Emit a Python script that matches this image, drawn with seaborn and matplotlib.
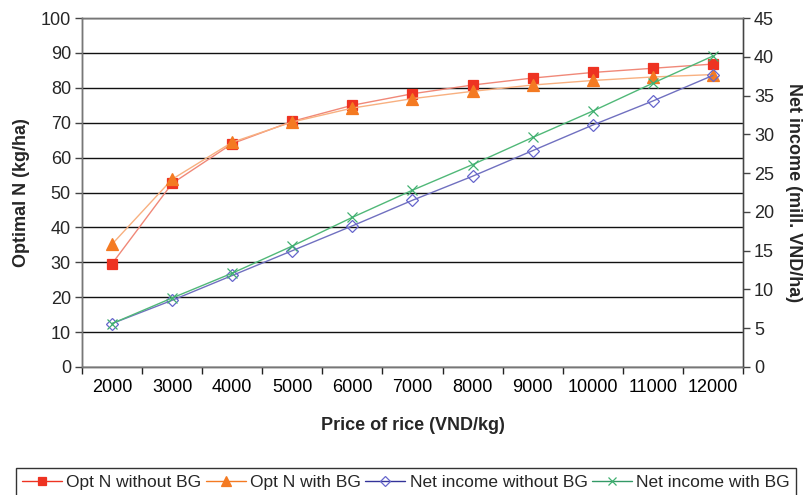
import matplotlib
matplotlib.use("Agg")
import matplotlib.pyplot as plt
from matplotlib.ticker import FixedLocator, NullFormatter
import seaborn as sns
import pandas as pd
import numpy as np

# Price of rice (VND/kg)
prices = [2000, 3000, 4000, 5000, 6000, 7000, 8000, 9000, 10000, 11000, 12000]
# Optimal N rate (kg/ha)
opt_n_without_bg = [29.6, 52.6, 64.0, 70.4, 75.0, 78.3, 80.8, 82.8, 84.4, 85.6, 86.8]
opt_n_with_bg = [35.2, 53.8, 64.4, 70.2, 74.2, 76.9, 79.0, 80.8, 82.1, 83.1, 83.8]
# Net income (mill. VND/ha)
income_without_bg = [5.6, 8.6, 11.8, 15.0, 18.2, 21.5, 24.6, 27.9, 31.2, 34.3, 37.6]
income_with_bg = [5.6, 8.9, 12.1, 15.6, 19.3, 22.8, 26.1, 29.6, 33.0, 36.6, 40.1]

labels = ["Opt N without BG", "Opt N with BG",
          "Net income without BG", "Net income with BG"]

pos = np.arange(len(prices))
df_n = pd.DataFrame({"pos": np.tile(pos, 2),
                     "value": opt_n_without_bg + opt_n_with_bg,
                     "series": [labels[0]] * len(pos) + [labels[1]] * len(pos)})
df_i = pd.DataFrame({"pos": np.tile(pos, 2),
                     "value": income_without_bg + income_with_bg,
                     "series": [labels[2]] * len(pos) + [labels[3]] * len(pos)})

sns.set_theme(style="white")
plt.rcParams["font.family"] = ["Liberation Sans", "DejaVu Sans"]

fig = plt.figure(figsize=(8.12, 4.95), dpi=100)
ax = fig.add_axes([0.101, 0.2586, 0.814, 0.705])
ax2 = ax.twinx()

line_styles = {
    labels[0]: dict(color="#F08878", mcolor="#EE3322", marker="s", ms=7, mfc="#EE3322"),
    labels[1]: dict(color="#F8B080", mcolor="#F47A22", marker="^", ms=8, mfc="#F47A22"),
    labels[2]: dict(color="#7070C0", mcolor="#6666CC", marker="D", ms=6, mfc="none"),
    labels[3]: dict(color="#50B878", mcolor="#40B070", marker="x", ms=7, mfc="#40B070"),
}

for a, df, names in [(ax, df_n, labels[:2]), (ax2, df_i, labels[2:])]:
    for name in names:
        st = line_styles[name]
        sub = df[df["series"] == name]
        sns.lineplot(data=sub, x="pos", y="value", ax=a, color=st["color"],
                     linewidth=1.0, marker=st["marker"], markersize=st["ms"],
                     markerfacecolor=st["mfc"], markeredgecolor=st["mcolor"],
                     markeredgewidth=0.9, legend=False)

# Legend handles drawn with the series colours
leg_colors = {labels[0]: "#EE3322", labels[1]: "#F47A22",
              labels[2]: "#333399", labels[3]: "#339966"}
handles = []
for name in labels:
    st = line_styles[name]
    h, = ax.plot([], [], color=leg_colors[name], linewidth=1.0, marker=st["marker"],
                 markersize=st["ms"] - 1, markerfacecolor=st["mfc"],
                 markeredgecolor=st["mcolor"], markeredgewidth=0.9)
    handles.append(h)

ax.set_xlim(-0.5, len(prices) - 0.5)
ax.set_ylim(0, 100)
ax2.set_ylim(0, 45)
ax.set_yticks(np.arange(0, 101, 10))
ax2.set_yticks(np.arange(0, 46, 5))
ax.set_xticks(pos)
ax.set_xticklabels([str(p) for p in prices])
ax.xaxis.set_minor_locator(FixedLocator(np.arange(-0.5, len(prices), 1.0)))
ax.xaxis.set_minor_formatter(NullFormatter())

ax.grid(axis="y", color="#111111", linewidth=1.0)
ax.set_axisbelow(True)
for a in (ax, ax2):
    for s in a.spines.values():
        s.set_color("#777777")
        s.set_linewidth(1.0)
ax2.spines["right"].set_color("#444444")
ax.spines["left"].set_color("#444444")
ax.spines["bottom"].set_color("#444444")

ax.tick_params(axis="x", which="major", length=0, pad=9, labelsize=13, colors="black")
ax.tick_params(axis="x", which="minor", length=5, width=1, direction="out", color="#222222")
ax.tick_params(axis="y", length=5, width=1, direction="out", labelsize=13, color="#444444", pad=3)
ax2.tick_params(axis="y", length=5, width=1, direction="out", labelsize=13, color="#444444", pad=3)
ax.tick_params(bottom=True, left=True, which="both")

ax.set_xlabel("Price of rice (VND/kg)", fontsize=13, fontweight="bold", labelpad=15)
ax.set_ylabel("Optimal N (kg/ha)", fontsize=13, fontweight="bold", labelpad=8)
ax2.set_ylabel("Net income (mill. VND/ha)", fontsize=13, fontweight="bold",
               rotation=270, labelpad=20)

leg = fig.legend(handles, labels, loc="lower center", ncol=4,
                 bbox_to_anchor=(0.5, -0.012), fontsize=12.5, frameon=True,
                 fancybox=False, edgecolor="black", handlelength=2.3,
                 handletextpad=0.25, columnspacing=0.25, borderpad=0.35,
                 borderaxespad=0.3)
leg.get_frame().set_linewidth(1.0)

fig.savefig("out.png", dpi=100)
